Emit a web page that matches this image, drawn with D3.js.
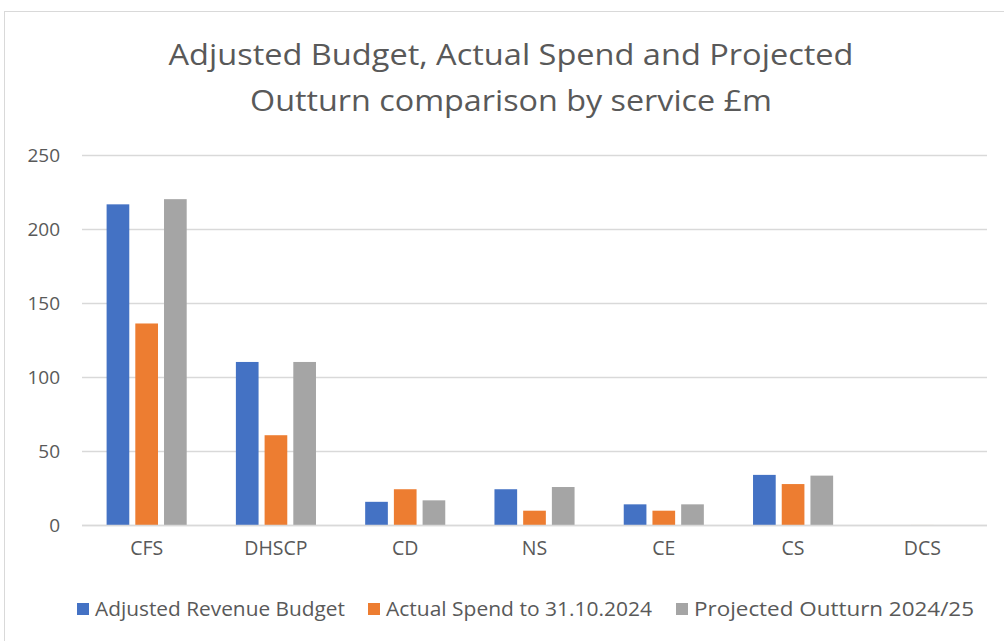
<!DOCTYPE html>
<html>
<head>
<meta charset="utf-8">
<script src="https://cdn.jsdelivr.net/npm/d3@7"></script>
<style>
  body { margin: 0; background: #fff; }
  svg text { font-family: "Open Sans", sans-serif; fill: #595959; }
</style>
</head>
<body>
<div id="vis"></div>
<script>
var width = 1004;
var height = 641;

var categories = ["CFS", "DHSCP", "CD", "NS", "CE", "CS", "DCS"];
var seriesNames = ["Adjusted Revenue Budget", "Actual Spend to 31.10.2024", "Projected Outturn 2024/25"];
var budget = [217, 110.5, 16, 24.5, 14.3, 34.2, 0];
var actual = [136.5, 61, 24.5, 10, 10, 28, 0.4];
var outturn = [220.5, 110.5, 17, 26, 14.3, 33.7, 0];
var yTicks = [0, 50, 100, 150, 200, 250];
var colors = ["#4472C4", "#ED7D31", "#A5A5A5"];
var titleLines = ["Adjusted Budget, Actual Spend and Projected", "Outturn comparison by service £m"];

var seriesValues = [budget, actual, outturn];

var canvas = d3.select("#vis")
  .append("svg")
  .attr("width", width)
  .attr("height", height);

// chart area border
canvas.append("rect")
  .attr("x", 4.5)
  .attr("y", 11.5)
  .attr("width", 1010)
  .attr("height", 640)
  .style("fill", "none")
  .style("stroke", "#d9d9d9");

// title, stretched a little to the width of the original (Calibri-like) text
var titleWidths = [685, 522];
canvas.append("g")
  .selectAll("text")
  .data(titleLines)
  .enter()
  .append("text")
  .attr("x", 511)
  .attr("y", (d, i) => 65 + i * 46)
  .attr("text-anchor", "middle")
  .attr("textLength", (d, i) => titleWidths[i])
  .attr("lengthAdjust", "spacingAndGlyphs")
  .style("font-size", "30px")
  .text(d => d);

const x0 = d3.scaleBand()
  .domain(categories)
  .range([82, 987]);

const x1 = d3.scaleBand()
  .domain(seriesNames)
  .range([24.6, 104.7])
  .paddingInner(0.21);

const y = d3.scaleLinear()
  .domain([0, 250])
  .range([525.5, 155.5]);

// gridlines
canvas.append("g")
  .selectAll("line")
  .data(yTicks)
  .enter()
  .append("line")
  .attr("x1", 82)
  .attr("x2", 987)
  .attr("y1", d => y(d))
  .attr("y2", d => y(d))
  .style("stroke", "#d9d9d9")
  .style("stroke-width", "1.3px");

const yAxis = d3.axisLeft(y)
  .tickValues(yTicks)
  .tickSize(0)
  .tickPadding(0);

canvas.append("g")
  .attr("transform", "translate(60, 0)")
  .call(yAxis)
  .call(g => g.select(".domain").remove())
  .selectAll("text")
  .style("font-size", "19px")
  .style("fill", "#595959");

// bars
var groups = canvas.append("g")
  .selectAll("g")
  .data(categories)
  .enter()
  .append("g")
  .attr("transform", d => `translate(${x0(d)}, 0)`);

groups.selectAll("rect")
  .data((c, i) => seriesNames.map((s, j) => ({ s: s, v: seriesValues[j][i], color: colors[j] })))
  .enter()
  .append("rect")
  .attr("x", d => x1(d.s))
  .attr("width", x1.bandwidth())
  .attr("y", d => y(d.v))
  .attr("height", d => y(0) - y(d.v))
  .style("fill", d => d.color)
  .style("opacity", (d) => d.v < 1 ? 0.25 : 1);

// x axis line
canvas.append("line")
  .attr("x1", 82)
  .attr("x2", 987)
  .attr("y1", y(0))
  .attr("y2", y(0))
  .style("stroke", "#d9d9d9")
  .style("stroke-width", "1.5px");

const xAxis = d3.axisBottom(x0).tickSize(0).tickPadding(0);
canvas.append("g")
  .attr("transform", `translate(0, ${y(0) + 16})`)
  .call(xAxis)
  .call(g => g.select(".domain").remove())
  .selectAll("text")
  .style("font-size", "19.5px")
  .style("fill", "#595959");

// legend
var legendX = [77, 368, 676];
var legendWidths = [250, 266, 280];
var legend = canvas.append("g")
  .selectAll("g")
  .data(seriesNames)
  .enter()
  .append("g")
  .attr("transform", (d, i) => `translate(${legendX[i]}, 609)`);

legend.append("rect")
  .attr("x", 0)
  .attr("y", -6)
  .attr("width", 12)
  .attr("height", 12)
  .style("fill", (d, i) => colors[i]);

legend.append("text")
  .attr("x", 18)
  .attr("y", 7)
  .attr("textLength", (d, i) => legendWidths[i])
  .attr("lengthAdjust", "spacingAndGlyphs")
  .style("font-size", "19.5px")
  .text(d => d);
</script>
</body>
</html>
